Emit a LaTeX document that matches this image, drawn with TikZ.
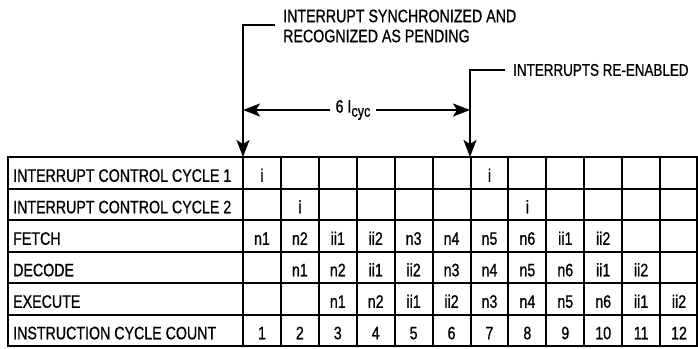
\documentclass[tikz,border=0pt]{standalone}
\usepackage{fontspec}
\setmainfont[FakeStretch=0.79,FakeBold=0.8]{Liberation Sans}
\usetikzlibrary{arrows.meta}
\begin{document}
\begin{tikzpicture}[x=1pt,y=-1pt,
  grid/.style={line width=2pt},
  frame/.style={line width=2.6pt},
  lead/.style={line width=2pt},
  tip/.style={-{Stealth[length=17pt,width=13pt,inset=4pt]}},
  lbl/.style={anchor=west,inner sep=0pt,font=\fontsize{18}{21}\selectfont},
  cell/.style={inner sep=0pt,font=\fontsize{18}{21}\selectfont},
  note/.style={anchor=west,inner sep=0pt,font=\fontsize{18}{20}\selectfont,align=left}]
\useasboundingbox (0,0) rectangle (698,348);
\def\cw{37.917}
\def\rh{31.5}
% grid
\foreach \i in {1,...,11} \draw[grid] (243+\i*\cw,157) -- (243+\i*\cw,346);
\foreach \j in {1,...,5} \draw[grid] (8,157+\j*\rh) -- (697,157+\j*\rh);
\draw[grid] (243,157) -- (243,346);
\draw[frame] (8,157) rectangle (697,346);
% row labels
\foreach \t [count=\j from 0] in {INTERRUPT CONTROL CYCLE 1,INTERRUPT CONTROL CYCLE 2,FETCH,DECODE,EXECUTE,INSTRUCTION CYCLE COUNT}
  \node[lbl,anchor=base west] (r\j) at (13,157+\j*\rh+0.5*\rh+9) {\t};
% cells
\foreach \row/\vals in {0/{i,,,,,,i,,,,,},1/{,i,,,,,,i,,,,},2/{n1,n2,ii1,ii2,n3,n4,n5,n6,ii1,ii2,,},3/{,n1,n2,ii1,ii2,n3,n4,n5,n6,ii1,ii2,},4/{,,n1,n2,ii1,ii2,n3,n4,n5,n6,ii1,ii2},5/{1,2,3,4,5,6,7,8,9,10,11,12}}
  \foreach \v [count=\c from 0] in \vals
    \node[cell,anchor=base] (c\row-\c) at (243+\c*\cw+0.5*\cw,157+\row*\rh+0.5*\rh+9) {\v};
% annotations
\coordinate (a1) at (243,157);
\coordinate (a2) at (470,157);
\node[note] (sync) at (283,26) {INTERRUPT SYNCHRONIZED AND\\RECOGNIZED AS PENDING};
\node[note,font=\fontsize{17}{20}\selectfont] (reen) at (513,70) {INTERRUPTS RE-ENABLED};
\draw[lead,tip] ([xshift=-8pt,yshift=1pt]sync.west) -| (a1);
\draw[lead,tip] ([xshift=-8pt]reen.west) -| (a2);
\node[cell] (six) at (353,110) {6 I\raisebox{-4pt}{\fontsize{16}{18}\selectfont cyc}};
\coordinate (s1) at (243,110);
\coordinate (s2) at (470,110);
\draw[lead,tip] ([xshift=-5pt]six.west) -- (s1);
\draw[lead,tip] ([xshift=5pt]six.east) -- (s2);
\end{tikzpicture}
\end{document}
